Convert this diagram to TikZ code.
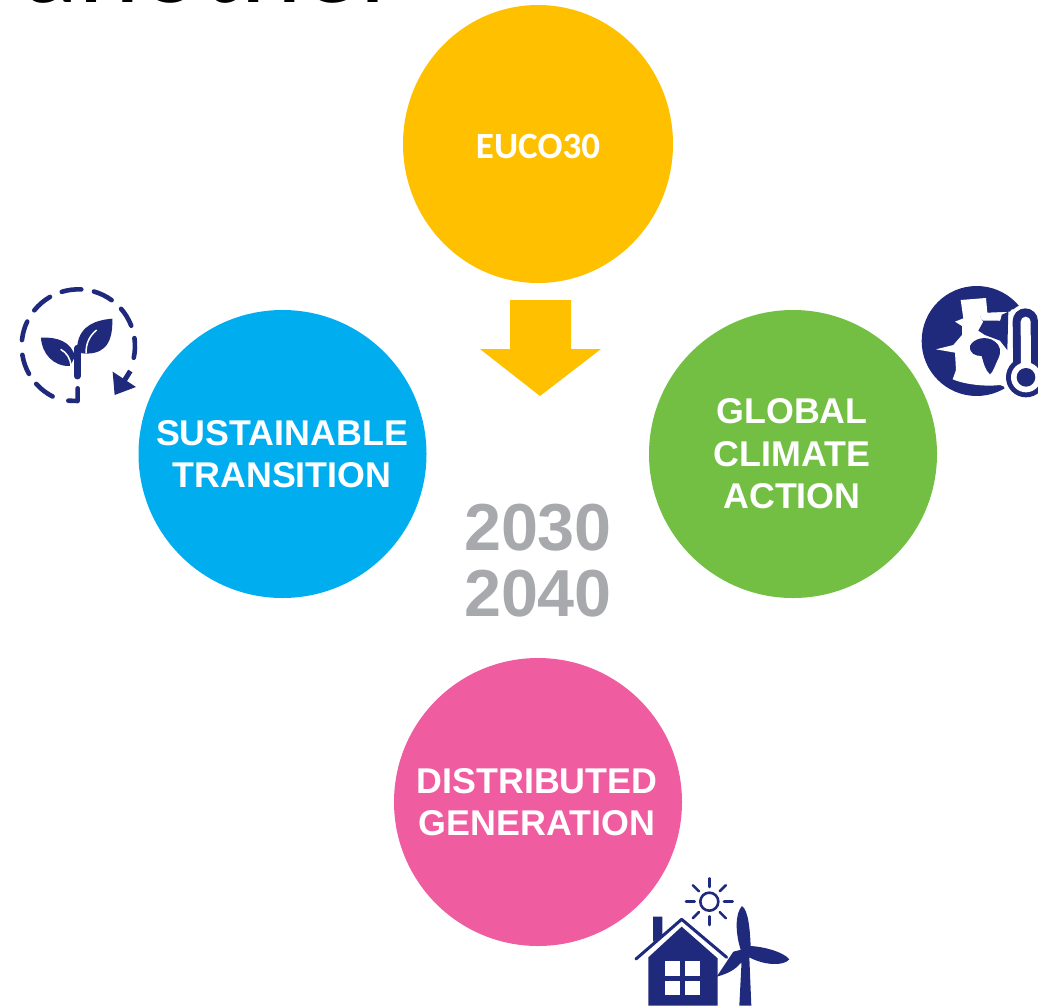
\documentclass[tikz,border=0pt]{standalone}
\usepackage{fontspec}
\setmainfont{Liberation Sans}
\newfontfamily\carl{Carlito}
\definecolor{cyellow}{HTML}{FFC000}
\definecolor{cblue}{HTML}{00AEEF}
\definecolor{cgreen}{HTML}{72BF44}
\definecolor{cpink}{HTML}{F05CA0}
\definecolor{cnavy}{HTML}{1F2A7C}
\definecolor{cgray}{HTML}{A7A9AC}
\tikzset{
  bubble/.style={fill=#1,draw=none},
  bubbletext/.style={text=white,font=\bfseries\fontsize{35.8}{42.5}\selectfont,align=center,inner sep=0pt},
  yeartext/.style={text=cgray,font=\bfseries\fontsize{66.5}{66}\selectfont,align=center,inner sep=0pt},
  navyline/.style={draw=cnavy,line cap=round,line join=round,line width=#1},
  navyfill/.style={fill=cnavy,draw=none},
  whitefill/.style={fill=white,draw=none}
}
\newcommand{\dashseg}[2]{\draw[navyline=4.6pt] (#1:170) arc[start angle=#1,end angle=#2,radius=170];}
\begin{document}
\begin{tikzpicture}[x=1pt,y=-1pt]
\useasboundingbox (0,0) rectangle (1038,1007);
\clip (0,0) rectangle (1038,1007);
\node[anchor=base west,inner sep=0pt,font=\carl\fontsize{117}{117}\selectfont] (title) at (22,2) {another};
% circles
\fill[bubble=cyellow] (538,144) ellipse[x radius=135,y radius=139];
\fill[bubble=cblue] (282.5,454) circle[radius=144];
\fill[bubble=cgreen] (793,454) circle[radius=144];
\fill[bubble=cpink] (538,802) circle[radius=144];
% arrow
\fill[cyellow] (510,300) -- (571,300) -- (571,349) -- (601,349) -- (540,396) -- (480,349) -- (510,349) -- cycle;
% labels
\node[text=white,font=\carl\bfseries\fontsize{37}{37}\selectfont,inner sep=0pt] (euco) at (538,146) {EUCO30};
\node[bubbletext] (sust) at (282,454) {SUSTAINABLE\\TRANSITION};
\node[bubbletext] (glob) at (792,454) {GLOBAL\\CLIMATE\\ACTION};
\node[bubbletext] (dist) at (537,802) {DISTRIBUTED\\GENERATION};
\node[yeartext] (years) at (538,561) {2030\\2040};
% plant icon
\begin{scope}[shift={(0,270)},x=0.3333pt,y=-0.3333pt]
 \begin{scope}[shift={(235,228)},y=0.3333pt]
  \dashseg{107}{87}\dashseg{74}{54}\dashseg{41}{21}\dashseg{8}{-12}
  \dashseg{243}{222}\dashseg{209.5}{189}\dashseg{174}{154.5}\dashseg{141}{120}
 \end{scope}
 \draw[navyline=4.6pt] (233,355) -- (233,393) -- (205,392);
 \fill[navyfill] (338,305) -- (344,375) -- (408,351) -- cycle;
 \draw[navyline=5pt,line cap=butt] (368,340) -- (391,303);
 % leaves
 \fill[navyfill] (337,146) .. controls (290,150) and (240,165) .. (232,225) -- (245,250) .. controls (300,255) and (340,235) .. cycle;
 \fill[navyfill] (123,203) .. controls (170,200) and (215,215) .. (225,260) -- (210,288) .. controls (160,290) and (125,250) .. cycle;
 \draw[navyline=7pt] (232,318) -- (232,235);
 \draw[white,line width=1.5pt] (290,180) .. controls (265,200) and (258,225) .. (258,250);
 \draw[white,line width=1.5pt] (182,238) .. controls (200,248) and (212,265) .. (213,290);
\end{scope}
% globe icon
\begin{scope}[shift={(900,270)},x=0.3333pt,y=-0.3333pt]
 \fill[navyfill] (230,213) circle[radius=165];
 \fill[whitefill] (182,90) -- (258,84) -- (262,128) -- (340,118) -- (420,118) -- (420,390) -- (300,345) .. controls (260,350) and (200,345) .. (158,328) -- (168,300) -- (165,248) -- (108,238) -- (160,225) -- (186,195) -- (186,168) -- (165,155) -- (190,145) -- cycle;
 \fill[navyfill] (330,125) -- (262,128) -- (265,122) -- (345,100) -- cycle;
 \fill[navyfill] (240,140) -- (300,152) -- (304,135) -- (325,125) -- (322,240) -- (300,212) -- (255,195) -- (235,182) -- (250,155) -- cycle;
 \fill[whitefill] (262,128) -- (305,135) -- (300,152) -- (250,152) -- (240,142) -- cycle;
 \fill[navyfill] (210,228) .. controls (220,205) and (260,195) .. (285,215) .. controls (300,225) and (305,245) .. (295,265) .. controls (285,285) and (280,305) .. (270,313) .. controls (255,300) and (250,275) .. (245,258) .. controls (225,258) and (208,250) .. (210,228) -- cycle;
 % thermometer
 \draw[white,line width=33pt,line cap=round] (376,153) -- (378,322);
 \fill[whitefill] (378,322) circle[radius=72];
 \draw[cnavy,line width=25.3pt,line cap=round] (376,153) -- (378,322);
 \fill[navyfill] (378,322) circle[radius=60];
 \draw[white,line width=10pt,line cap=round] (377,155) -- (378,322);
 \fill[whitefill] (378,322) circle[radius=45];
 \fill[navyfill] (378,322) circle[radius=28];
\end{scope}
% house and wind icon
\begin{scope}[shift={(620,870)},x=0.3333pt,y=-0.3333pt]
 \draw[navyline=2.6pt] (268,95) circle[radius=27];
 \foreach \a in {0,45,...,315}{
  \draw[navyline=2.6pt] (268,95) ++(\a:44) -- ++(\a:26);
 }
 % turbine
 \fill[navyfill] (366,108) .. controls (345,130) and (345,190) .. (364,245) -- (290,320) .. controls (330,310) and (360,290) .. (365,270) -- (358,407) -- (394,407) -- (388,262) .. controls (430,285) and (490,290) .. (508,268) .. controls (490,245) and (430,230) .. (392,228) .. controls (390,180) and (385,120) .. (366,108) -- cycle;
 \fill[navyfill] (340,245) -- (380,235) -- (380,270) -- (290,320) -- cycle;
 % house
 \fill[navyfill] (99,140) -- (127,140) -- (127,200) -- (99,215) -- cycle;
 \fill[whitefill] (60,262) -- (185,152) -- (310,262) -- (290,300) -- (60,300) -- cycle;
 \fill[navyfill] (85,262) -- (185,170) -- (293,265) -- (293,407) -- (85,407) -- cycle;
 \draw[navyline=3pt] (48,267) -- (185,148) -- (320,262);
 \fill[whitefill] (136,272) rectangle (181,318);
 \fill[whitefill] (194,272) rectangle (240,318);
 \fill[whitefill] (136,332) rectangle (181,375);
 \fill[whitefill] (194,332) rectangle (240,375);
\end{scope}
\end{tikzpicture}
\end{document}
